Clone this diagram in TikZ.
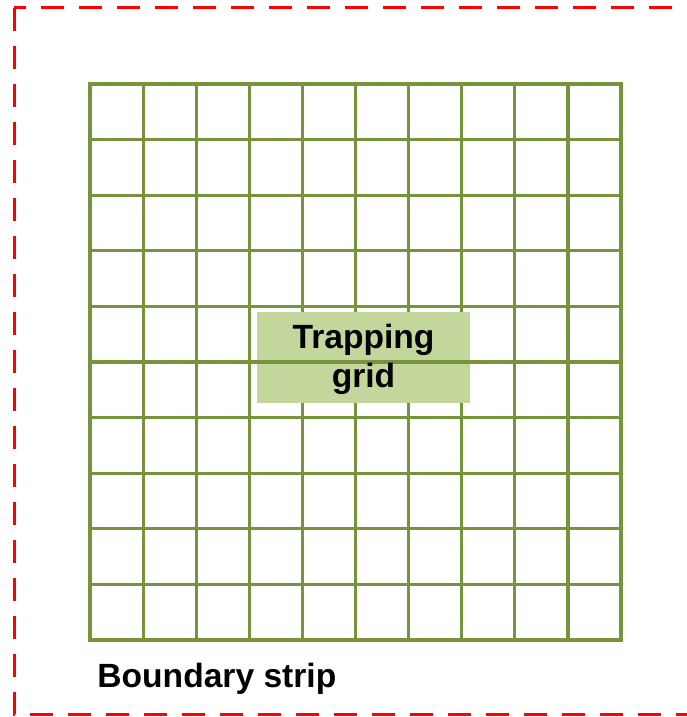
\documentclass[tikz,border=0pt]{standalone}
\usepackage{fontspec}
\setmainfont{Liberation Sans}
\usetikzlibrary{positioning}
\definecolor{rojo}{RGB}{255,0,0}
\definecolor{oliva}{RGB}{119,147,60}
\definecolor{verdeclaro}{RGB}{195,214,155}
\tikzset{
  linea/.style={draw=oliva,line width=1.6pt,line cap=rect},
  rotulo/.style={font=\bfseries\fontsize{16.8}{19.5}\selectfont,text=black}
}

\begin{document}
\begin{tikzpicture}[x=0.5pt,y=-0.5pt]
\useasboundingbox (0,0) rectangle (686,717);
\draw[rojo,line width=1.5pt,dash pattern=on 11.5pt off 7.5pt] (14,8) rectangle (720,714);
\foreach \i in {0,...,10}
  \draw[linea] ({90+53.1*\i},84) -- ({90+53.1*\i},640);
\node[fill=verdeclaro,minimum width=106.5pt,minimum height=45.5pt,inner sep=0pt] (etiqueta) at (363.5,357.5) {};
\foreach \j in {0,...,10}
  \draw[linea] (90,{84+55.6*\j}) -- (621,{84+55.6*\j});
\node[rotulo,align=center] (texto) at ([yshift=-1pt]etiqueta) {Trapping\\grid};
\node[rotulo,anchor=base west,inner sep=0pt] (franja) at (97,687) {Boundary strip};
\end{tikzpicture}
\end{document}
